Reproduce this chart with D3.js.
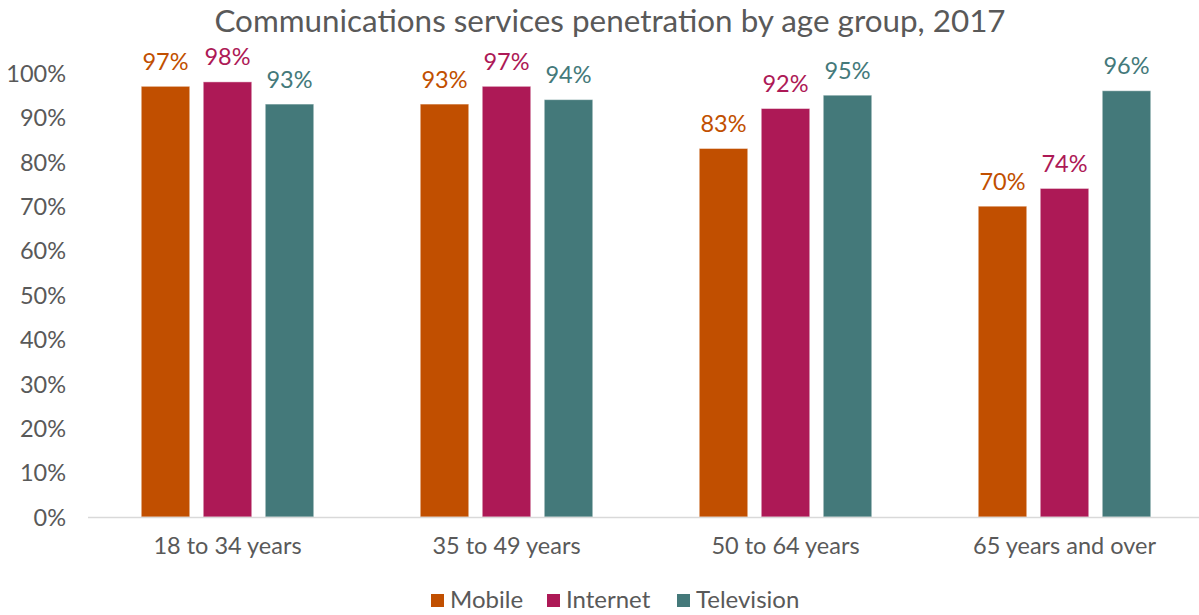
<!DOCTYPE html>
<html>
<head>
<meta charset="utf-8">
<script src="https://cdn.jsdelivr.net/npm/d3@7"></script>
<style>
  html, body { margin: 0; padding: 0; background: #fff; }
  svg { display: block; font-family: Lato, "Open Sans", sans-serif; }
</style>
</head>
<body>
<svg id="chart" width="1199" height="615"></svg>
<script>
// Age groups along the x axis
const categories = ["18 to 34 years", "35 to 49 years", "50 to 64 years", "65 years and over"];
// Service series
const seriesNames = ["Mobile", "Internet", "Television"];
const seriesColors = ["#C14F00", "#AD1956", "#44797A"];
// Penetration rate (%) per age group, one array per service
const mobile = [97, 93, 83, 70];
const internet = [98, 97, 92, 74];
const television = [93, 94, 95, 96];
// Y axis ticks
const yTicks = [0, 10, 20, 30, 40, 50, 60, 70, 80, 90, 100];

const seriesValues = [mobile, internet, television];

const svg = d3.select("#chart");
const W = 1199, H = 615;
const margin = { top: 73, right: -5, bottom: 98, left: 88 };
const plotBottom = H - margin.bottom; // 517

const x0 = d3.scaleBand()
  .domain(categories)
  .range([margin.left, W - margin.right])
  .paddingInner(0).paddingOuter(0);

const x1 = d3.scaleBand()
  .domain(seriesNames)
  .range([-86.25, 86.25])
  .paddingInner(0.218).paddingOuter(0);

const y = d3.scaleLinear()
  .domain([0, 100])
  .range([plotBottom, margin.top]);

// Title
svg.append("text")
  .attr("x", 610).attr("y", 32)
  .attr("text-anchor", "middle")
  .attr("font-size", 31.4)
  .attr("fill", "#595959")
  .text("Communications services penetration by age group, 2017");

// Y axis (labels only)
const yAxis = d3.axisLeft(y).tickValues(yTicks).tickSize(0).tickPadding(0)
  .tickFormat(d => d + "%");
const yG = svg.append("g").attr("transform", `translate(66,0)`).call(yAxis);
yG.select(".domain").remove();
yG.selectAll("text")
  .attr("font-family", "Lato, sans-serif")
  .attr("font-size", 23.5)
  .attr("fill", "#595959")
  .attr("dy", "0.35em");

// Bars
const groups = svg.append("g").selectAll("g")
  .data(categories)
  .join("g")
  .attr("transform", d => `translate(${x0(d) + x0.bandwidth() / 2},0)`);

groups.selectAll("rect")
  .data((c, i) => seriesNames.map((s, j) => ({ s, j, v: seriesValues[j][i] })))
  .join("rect")
  .attr("x", d => x1(d.s))
  .attr("width", x1.bandwidth())
  .attr("y", d => y(d.v))
  .attr("height", d => plotBottom - y(d.v))
  .attr("fill", d => seriesColors[d.j])
  .attr("stroke", "#ffffff")
  .attr("stroke-opacity", 0.45)
  .attr("stroke-width", 1);

// Value labels above bars
groups.selectAll("text.val")
  .data((c, i) => seriesNames.map((s, j) => ({ s, j, v: seriesValues[j][i] })))
  .join("text")
  .attr("class", "val")
  .attr("x", d => x1(d.s) + x1.bandwidth() / 2)
  .attr("y", d => y(d.v) - 16.5)
  .attr("text-anchor", "middle")
  .attr("font-size", 23.5)
  .attr("fill", d => seriesColors[d.j])
  .text(d => d.v + "%");

// X axis baseline
svg.append("line")
  .attr("x1", margin.left).attr("x2", W)
  .attr("y1", plotBottom + 0.5).attr("y2", plotBottom + 0.5)
  .attr("stroke", "#D9D9D9").attr("stroke-width", 1.5);

// Category labels
const xAxis = d3.axisBottom(x0).tickSize(0).tickPadding(0);
const xG = svg.append("g").attr("transform", `translate(0,${plotBottom})`).call(xAxis);
xG.select(".domain").remove();
xG.selectAll("text")
  .attr("font-family", "Lato, sans-serif")
  .attr("font-size", 23.5)
  .attr("fill", "#595959")
  .attr("dy", 0)
  .attr("y", 37);

// Legend
const legendX = [431, 547, 677];
const legend = svg.append("g").selectAll("g")
  .data(seriesNames)
  .join("g")
  .attr("transform", (d, i) => `translate(${legendX[i]},594)`);
legend.append("rect")
  .attr("width", 13).attr("height", 13)
  .attr("fill", (d, i) => seriesColors[i]);
legend.append("text")
  .attr("x", 19).attr("y", 14)
  .attr("font-size", 24)
  .attr("fill", "#595959")
  .text(d => d);
</script>
</body>
</html>
